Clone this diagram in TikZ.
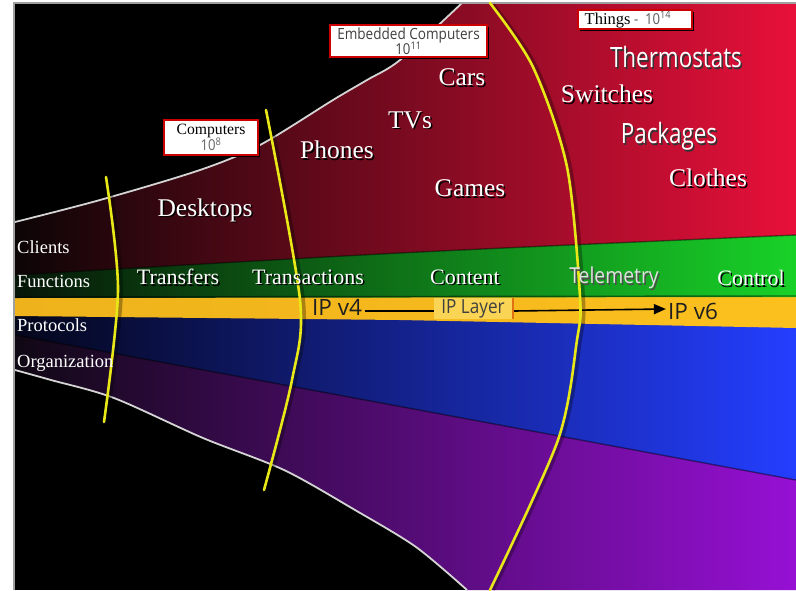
\documentclass[tikz,border=0pt]{standalone}
\usepackage{fontspec}
\usepackage{graphicx}
\setmainfont{Liberation Serif}
\newfontfamily\robw{Open Sans}
\newfontfamily\rob[FakeStretch=0.88]{Open Sans}
\newfontfamily\robn[FakeStretch=0.80]{Open Sans}
\usetikzlibrary{arrows.meta,shadows}

% band colours (dark left end, bright right end)
\definecolor{redL}{RGB}{12,5,6}
\definecolor{redM}{RGB}{128,10,30}
\definecolor{redR}{RGB}{232,16,58}
\definecolor{grnL}{RGB}{6,22,8}
\definecolor{grnM}{RGB}{16,105,22}
\definecolor{grnR}{RGB}{24,210,40}
\definecolor{yelL}{RGB}{238,178,28}
\definecolor{yelR}{RGB}{252,192,30}
\definecolor{bluL}{RGB}{4,6,26}
\definecolor{bluM}{RGB}{22,36,150}
\definecolor{bluR}{RGB}{36,62,255}
\definecolor{purL}{RGB}{16,8,20}
\definecolor{purM}{RGB}{84,16,124}
\definecolor{purR}{RGB}{150,16,212}
\definecolor{arcY}{RGB}{232,232,24}
\definecolor{edgeW}{RGB}{212,212,212}
\definecolor{boxR}{RGB}{204,0,0}
\definecolor{layerY}{RGB}{250,212,84}
\definecolor{barO}{RGB}{224,112,16}

% white text with a dark drop shadow
\newcommand\shd[2][black]{\leavevmode\rlap{\kern1.5pt\raisebox{-1.5pt}{\color{#1}#2}}#2}

\begin{document}
\begin{tikzpicture}[x=1pt,y=-1pt,
  bigword/.style={text=white,inner sep=0,font=\fontsize{25.5}{28}\selectfont},
  bigsans/.style={text=white,inner sep=0,font=\robn\fontsize{28}{30}\selectfont},
  rowname/.style={text=white,inner sep=0,anchor=west,font=\fontsize{18.5}{20}\selectfont},
  funcword/.style={text=white,inner sep=0,font=\fontsize{22}{24}\selectfont},
  tagbox/.style={draw=boxR,line width=2pt,fill=white,inner sep=0,align=center,
    drop shadow={shadow xshift=2pt,shadow yshift=-2pt,fill=black,opacity=1}},
  ipword/.style={text=black!88,inner sep=3pt,font=\robw\fontsize{22.5}{24}\selectfont},
  ipline/.style={draw=black,line width=1.6pt},
  seam/.style={draw=black,line width=1.4pt,opacity=.45},
  rim/.style={draw=edgeW,line width=1.8pt},
  era/.style={draw=arcY,line width=2.6pt,line cap=round},
  erashade/.style={draw=black,line width=4pt,opacity=.3},
]
\useasboundingbox (0,0) rectangle (796,590);
\fill[white] (0,0) rectangle (796,590);
\fill[black] (15,3) rectangle (796,590);

% ---- coloured bands ----
% clients (red)
\shade[left color=redL,middle color=redM,right color=redR]
  plot[smooth] coordinates {(15,222) (100,200) (200,170) (260,145) (333,100) (367,80) (400,60) (462,3)}
  -- (796,3) -- (796,300) -- (15,300) -- cycle;
% organization (purple)
\shade[left color=purL,middle color=purM,right color=purR]
  (15,300) -- (796,300) -- (796,590) -- (467,590)
  -- plot[smooth] coordinates {(467,590) (416,547) (355,510) (284,470) (203,438) (114,398) (51,380) (15,370)}
  -- cycle;
% protocols (blue)
\shade[left color=bluL,middle color=bluM,right color=bluR]
  (15,300) -- (796,300) -- (796,480) -- (15,335) -- cycle;
% IP layer (yellow)
\shade[left color=yelL,right color=yelR]
  (15,297) -- (796,296) -- (796,328) -- (400,320) -- (15,316) -- cycle;
% functions (green)
\shade[left color=grnL,middle color=grnM,right color=grnR]
  plot[smooth] coordinates {(15,275) (400,253) (796,235)} -- (796,297) -- (15,298) -- cycle;

% soft seams between the bands
\draw[seam] plot[smooth] coordinates {(15,275) (400,253) (796,235)};
\draw[seam] (15,297) -- (796,296);
\draw[seam] (15,335) -- (796,480);

% white rims of the funnel
\draw[rim] plot[smooth] coordinates {(15,222) (100,200) (200,170) (260,145) (333,100) (367,80) (400,60) (462,3)};
\draw[rim] plot[smooth] coordinates {(15,370) (51,380) (114,398) (203,438) (284,470) (355,510) (416,547) (467,590)};

% frame
\draw[gray!75,line width=2pt] (14,590) -- (14,2.5) -- (796,2.5);

% ---- IP layer line ----
\node[ipword] (ipv4) at (337,307) {IP v4};
\node[fill=layerY,minimum width=78pt,minimum height=21pt,inner sep=0,
      text=black!75,font=\rob\fontsize{19.5}{21}\selectfont] (iplayer) at (473,308.5) {IP Layer};
\draw[barO,line width=2pt] ([xshift=1pt]iplayer.north east) -- ([xshift=1pt]iplayer.south east);
\node[ipword,inner sep=2pt] (ipv6) at (693,311) {IP v6};
\draw[ipline] ([yshift=-4pt]ipv4.east) -- ([yshift=-2.5pt]iplayer.west);
\draw[ipline,-{Triangle[length=12pt,width=10pt]}] ([xshift=2pt,yshift=-2.5pt]iplayer.east) -- ([yshift=2pt]ipv6.west);

% ---- era arcs ----
\draw[erashade] plot[smooth] coordinates {(109,180) (121,290) (107,420)};
\draw[erashade] plot[smooth] coordinates {(269,112) (303,300) (295,380) (267,490)};
\draw[erashade] plot[smooth] coordinates {(493,5) (536,67) (570,167) (583,297) (580,340) (561,440) (493,590)};
\draw[era] plot[smooth] coordinates {(106,177) (118,290) (104,422)};
\draw[era] plot[smooth] coordinates {(266,110) (300,300) (292,380) (264,490)};
\draw[era] plot[smooth] coordinates {(490,3) (533,67) (567,167) (580,297) (577,340) (558,440) (490,590)};

% ---- row names ----
\node[rowname] (clients) at (17,247) {Clients};
\node[rowname] (functions) at (17,281) {Functions};
\node[rowname] (protocols) at (17,325) {Protocols};
\node[rowname] (organization) at (17,363) {Organization};

% ---- functions ----
\node[funcword] (transfers) at (178,278) {\shd{Transfers}};
\node[funcword] (transactions) at (308,278) {\shd{Transactions}};
\node[funcword] (content) at (465,278) {\shd{Content}};
\node[funcword,text=black!12,font=\rob\fontsize{22}{24}\selectfont] (telemetry) at (614,279) {\shd[black!70]{Telemetry}};
\node[funcword] (control) at (751,279) {\shd{Control}};

% ---- clients ----
\node[bigword] (desktops) at (205,211) {\shd{Desktops}};
\node[bigword] (phones) at (337,151) {\shd{Phones}};
\node[bigword] (tvs) at (410,121) {\shd{TVs}};
\node[bigword] (cars) at (462,78) {\shd{Cars}};
\node[bigword] (games) at (470,189) {\shd{Games}};
\node[bigword] (switches) at (607,95) {\shd{Switches}};
\node[bigword] (clothes) at (708,179) {\shd{Clothes}};
\node[bigsans] (thermostats) at (676,58) {\shd[black!80]{Thermostats}};
\node[bigsans] (packages) at (669,137) {\shd[black!80]{Packages}};

% ---- population tags ----
\node[tagbox,minimum width=94pt,minimum height=35pt] (computers) at (211,137.5)
  {{\fontsize{15.7}{15}\selectfont Computers}\\[-1pt]
   {\rob\fontsize{15}{14}\selectfont\color{black!60}10\textsuperscript{8}}};
\node[tagbox,minimum width=157pt,minimum height=32pt] (embedded) at (408.5,41)
  {{\rob\fontsize{15.4}{14}\selectfont\color{black!75}Embedded Computers}\\[-2pt]
   {\rob\fontsize{15}{14}\selectfont\color{black!75}10\textsuperscript{11}}};
\node[tagbox,minimum width=114pt,minimum height=19pt] (things) at (635,19.5)
  {\hspace*{-14pt}{\fontsize{16.5}{17}\selectfont Things}%
   {\rob\fontsize{15}{15}\selectfont\color{black!65}\ -\ \ 10\textsuperscript{14}}};
\end{tikzpicture}
\end{document}
